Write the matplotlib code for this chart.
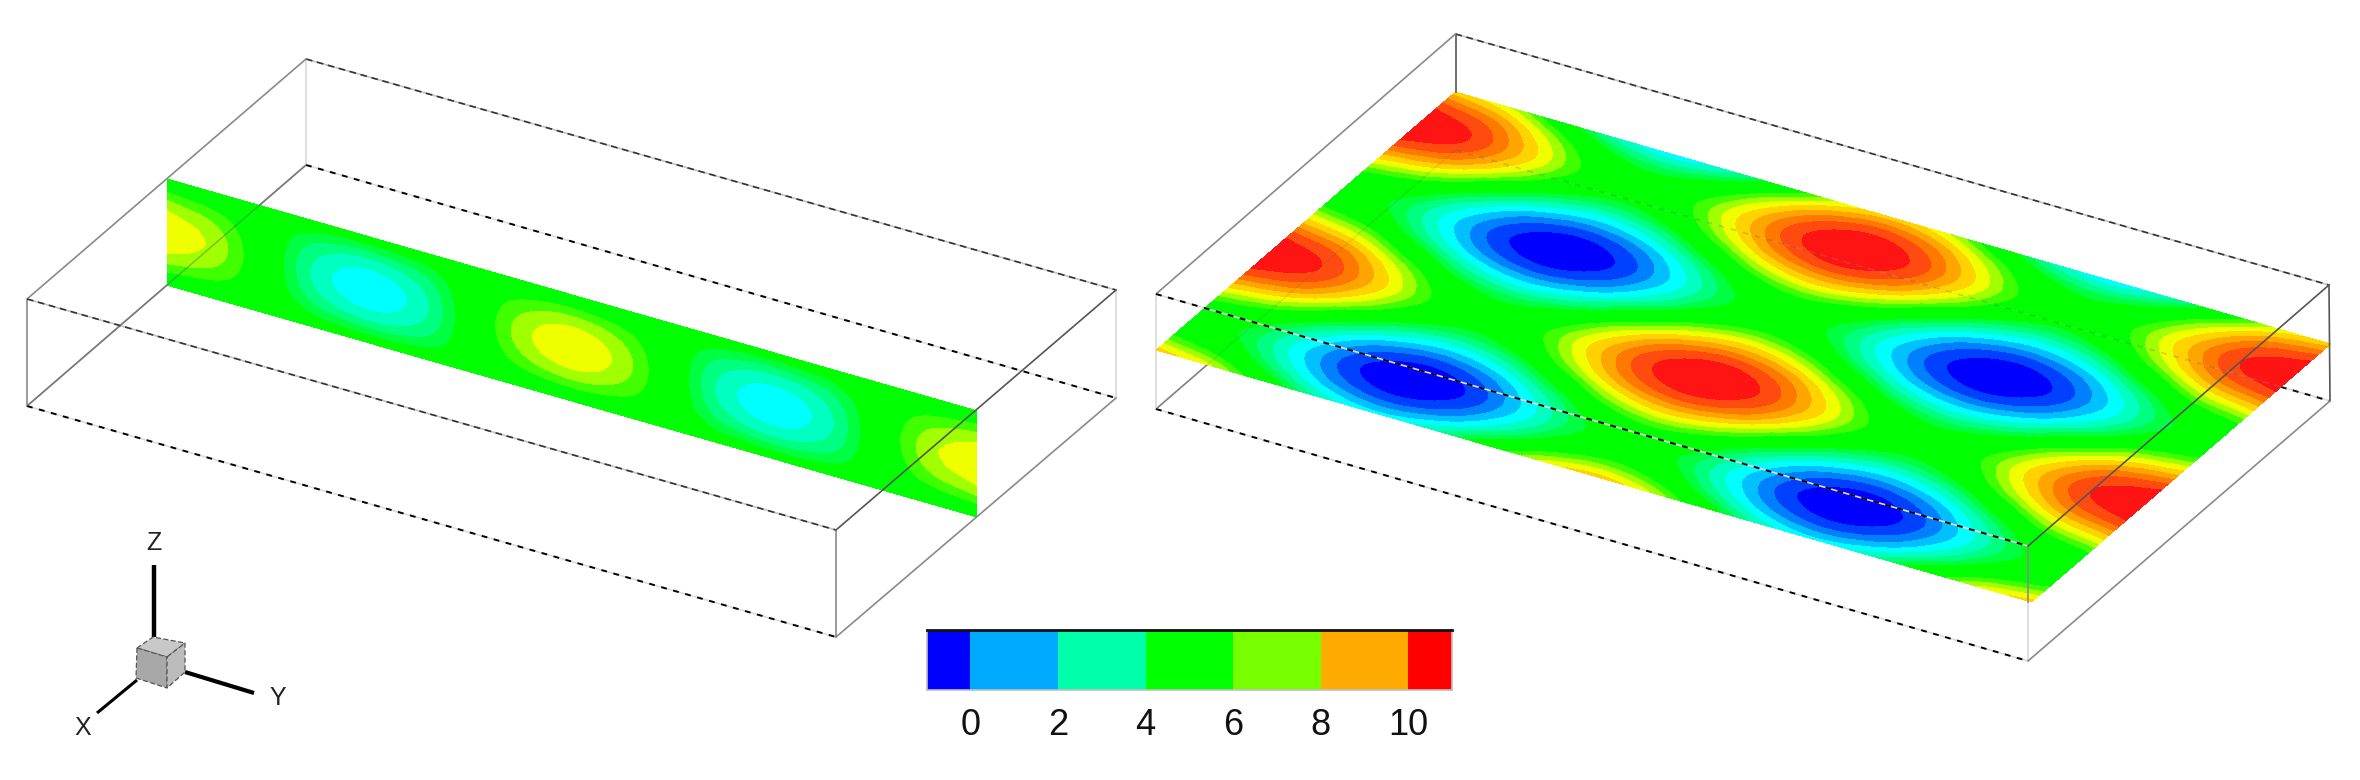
import numpy as np
import matplotlib
matplotlib.use("Agg")
import matplotlib.pyplot as plt
import matplotlib.tri as mtri
from matplotlib.colors import ListedColormap, BoundaryNorm

plt.rcParams['font.family'] = ['Liberation Sans', 'DejaVu Sans']

# ---- data ----
# left slice: rows along the height, 17 columns along the length
slice_values = [
    [5.00]*17,
    [5.89,5.63,5.00,4.26,3.95,4.26,5.00,5.63,5.89,5.63,5.00,4.26,3.95,4.26,5.00,5.63,5.89],
    [6.67,6.18,5.00,3.61,3.05,3.61,5.00,6.18,6.67,6.18,5.00,3.61,3.05,3.61,5.00,6.18,6.67],
    [7.16,6.53,5.00,3.21,2.47,3.21,5.00,6.53,7.16,6.53,5.00,3.21,2.47,3.21,5.00,6.53,7.16],
    [7.35,6.67,5.00,3.05,2.25,3.05,5.00,6.67,7.35,6.67,5.00,3.05,2.25,3.05,5.00,6.67,7.35],
    [7.16,6.53,5.00,3.21,2.47,3.21,5.00,6.53,7.16,6.53,5.00,3.21,2.47,3.21,5.00,6.53,7.16],
    [6.67,6.18,5.00,3.61,3.05,3.61,5.00,6.18,6.67,6.18,5.00,3.61,3.05,3.61,5.00,6.18,6.67],
    [5.89,5.63,5.00,4.26,3.95,4.26,5.00,5.63,5.89,5.63,5.00,4.26,3.95,4.26,5.00,5.63,5.89],
    [5.00]*17,
]
row_a = [7.70,6.92,5.00,3.08,2.30,3.08,5.00,6.92,7.70,6.92,5.00,3.08,2.30,3.08,5.00,6.92,7.70]
row_b = [9.62,8.83,6.92,5.00,4.22,5.00,6.92,8.83,9.62,8.83,6.92,5.00,4.22,5.00,6.92,8.83,9.62]
row_c = [10.40,9.62,7.70,5.78,5.00,5.78,7.70,9.62,10.40,9.62,7.70,5.78,5.00,5.78,7.70,9.62,10.40]
row_d = [5.78,5.00,3.08,1.17,0.38,1.17,3.08,5.00,5.78,5.00,3.08,1.17,0.38,1.17,3.08,5.00,5.78]
row_e = [5.00,4.22,2.30,0.38,-0.40,0.38,2.30,4.22,5.00,4.22,2.30,0.38,-0.40,0.38,2.30,4.22,5.00]
plane_values = [row_a, row_b, row_c, row_b, row_a, row_d, row_e, row_d,
                row_a, row_b, row_c, row_b, row_a, row_d, row_e, row_d, row_a]

contour_levels = [-3, 0.3, 0.95, 1.55, 2.15, 2.75, 3.35, 3.9, 4.4, 5.9, 6.4, 6.9, 7.45, 8.0, 8.55, 9.1, 9.7, 13]
contour_colors = ['#0000ff', '#0040ff', '#0080ff', '#00c0ff', '#00ffff', '#00ffc0', '#00ff80', '#00ff40',
                  '#00ff00', '#40ff00', '#a0ff00', '#f0ff00', '#ffd200', '#ffa500', '#ff7800', '#ff4b10', '#ff1414']

legend_edges = [-1, 0, 2, 4, 6, 8, 10, 11]
legend_colors = ['#0000ff', '#00aaff', '#00ffaa', '#00ff00', '#77ff00', '#ffaa00', '#ff0000']
legend_ticks = [0, 2, 4, 6, 8, 10]

# ---- figure ----
W, H = 2360, 780
fig = plt.figure(figsize=(W/100, H/100), dpi=100)
ax = fig.add_axes([0, 0, 1, 1])
ax.set_xlim(0, W); ax.set_ylim(H, 0); ax.axis('off')

cmap = ListedColormap(contour_colors)
norm = BoundaryNorm(contour_levels, cmap.N)


def draw_field(values, p0, eu, ev):
    z = np.asarray(values, float)
    nv, nu = z.shape
    uu, vv = np.meshgrid(np.linspace(0, 1, nu), np.linspace(0, 1, nv))
    x = p0[0] + uu*eu[0] + vv*ev[0]
    y = p0[1] + uu*eu[1] + vv*ev[1]
    idx = np.arange(nu*nv).reshape(nv, nu)
    a, b, c, d = idx[:-1, :-1].ravel(), idx[:-1, 1:].ravel(), idx[1:, :-1].ravel(), idx[1:, 1:].ravel()
    tris = np.vstack([np.c_[a, b, d], np.c_[a, d, c]])
    tri = mtri.Triangulation(x.ravel(), y.ravel(), tris)
    interp = mtri.CubicTriInterpolator(tri, z.ravel(), kind='geom')
    ref = mtri.UniformTriRefiner(tri)
    t2, z2 = ref.refine_field(z.ravel(), triinterpolator=interp, subdiv=3)
    ax.tricontourf(t2, z2, levels=contour_levels, cmap=cmap, norm=norm, antialiased=False, zorder=2)


def edge(p, q, kind, z=3, alpha=1.0):
    xs, ys = [p[0], q[0]], [p[1], q[1]]
    if kind == 'dash':
        ax.plot(xs, ys, color='#c4c4c4', lw=1.2, zorder=z, alpha=alpha)
        ax.plot(xs, ys, color='#333333', lw=1.2, ls=(0, (4.0, 2.8)), zorder=z, alpha=alpha)
    elif kind == 'dot':
        ax.plot(xs, ys, color='#dddddd', lw=1.2, zorder=z, alpha=alpha)
        ax.plot(xs, ys, color='#000000', lw=1.4, ls=(0, (3.0, 3.4)), zorder=z, alpha=alpha)
    elif kind == 'dark':
        ax.plot(xs, ys, color='#555555', lw=1.2, zorder=z, alpha=alpha)
    elif kind == 'mid':
        ax.plot(xs, ys, color='#8a8a8a', lw=1.2, zorder=z, alpha=alpha)
    else:
        ax.plot(xs, ys, color='#dcdcdc', lw=1.3, zorder=z, alpha=alpha)


# left box
A, B, C, D = (306, 59), (1116, 290), (1116, 398), (306, 165)
E, F, G, Hh = (27, 299), (27, 406), (836, 530), (836, 637)
edge(A, D, 'light', 1); edge(D, F, 'mid', 1); edge(D, C, 'dot', 1); edge(B, C, 'light', 1)
draw_field(slice_values, (167, 179), (810, 232), (0, 106))
edge(A, B, 'dash'); edge(A, E, 'mid'); edge(E, F, 'mid'); edge(E, G, 'dash'); edge(F, Hh, 'dot')
edge(G, Hh, 'mid'); edge(G, B, 'dark'); edge(Hh, C, 'mid')
edge(D, F, 'dark', 3, 0.35)

# right box
A, B, C, D = (1455.5, 34), (2329, 285), (2330, 401), (1455.5, 150)
E, F, G, Hh = (1156, 294), (1156, 409), (2028, 546), (2028, 661)
edge(D, F, 'mid', 1); edge(E, F, 'light', 1); edge(D, C, 'dot', 1); edge(G, Hh, 'light', 1)
draw_field(plane_values, (1455.5, 92), (875, 252), (-299, 258))
edge(A, (1455.5, 92), 'dark'); edge(A, B, 'dash'); edge(A, E, 'mid'); edge(E, G, 'dot'); edge(F, Hh, 'dot')
edge(G, (2028, 602), 'mid'); edge(G, B, 'dark'); edge(B, C, 'dark'); edge(Hh, C, 'mid')
edge(D, C, 'dot', 3, 0.12); edge(D, F, 'dark', 3, 0.12)

# orientation triad
ax.plot([154, 154], [565, 637], color='black', lw=3.2, solid_capstyle='butt', zorder=4)
ax.plot([137, 97], [680, 713], color='black', lw=2.2, solid_capstyle='butt', zorder=4)
ax.plot([185, 254], [672, 693], color='black', lw=3.0, solid_capstyle='butt', zorder=4)
for pts, col in [([(137, 648), (153, 637), (185, 643), (167, 657)], '#c8c8c8'),
                 ([(137, 648), (167, 657), (167, 688), (136, 678)], '#a8a8a8'),
                 ([(167, 657), (185, 643), (185, 672), (167, 688)], '#bcbcbc')]:
    ax.fill(*zip(*pts), facecolor=col, edgecolor='#555555', lw=0.9, ls=(0, (4, 2)), zorder=5)
ax.text(154, 543, 'Z', fontsize=18, ha='center', va='center', color='#222222')
ax.text(83, 728, 'X', fontsize=18, ha='center', va='center', color='#222222')
ax.text(278, 698, 'Y', fontsize=18, ha='center', va='center', color='#222222')

# legend
cax = fig.add_axes([926.6/W, 1 - 690/H, (1452 - 926.6)/W, 60/H])
cax.pcolormesh(legend_edges, [0, 1], [list(range(len(legend_colors)))],
               cmap=ListedColormap(legend_colors), vmin=-0.5, vmax=len(legend_colors)-0.5)
cax.set_xlim(legend_edges[0], legend_edges[-1]); cax.set_ylim(0, 1)
cax.set_yticks([]); cax.set_xticks(legend_ticks)
cax.set_xticklabels([str(t) for t in legend_ticks], fontsize=26, color='#111111')
cax.tick_params(axis='x', length=0, pad=13)
for s in ('left', 'right', 'bottom'):
    cax.spines[s].set_color('#c0c0c0'); cax.spines[s].set_linewidth(1.2)
cax.spines['top'].set_color('#111111'); cax.spines['top'].set_linewidth(2)

fig.savefig('out.png', dpi=100, facecolor='white')
